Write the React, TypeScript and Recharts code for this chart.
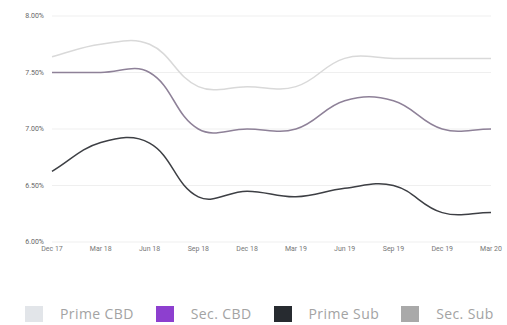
import { LineChart, Line, XAxis, YAxis, CartesianGrid, Legend } from 'recharts';

const quarters = ['Dec 17', 'Mar 18', 'Jun 18', 'Sep 18', 'Dec 18', 'Mar 19', 'Jun 19', 'Sep 19', 'Dec 19', 'Mar 20'];
const primeCbd = [7.64, 7.75, 7.75, 7.375, 7.375, 7.375, 7.625, 7.625, 7.625, 7.625];
const secCbd = [7.5, 7.5, 7.5, 7.0, 7.0, 7.0, 7.25, 7.25, 7.0, 7.0];
const primeSub = [6.625, 6.88, 6.875, 6.4, 6.45, 6.4, 6.475, 6.5, 6.26, 6.26];
const yTicks = [6.0, 6.5, 7.0, 7.5, 8.0];

const series = [
  { key: 'primeCbd', name: 'Prime CBD', color: '#e2e5e9', line: '#d9d9d9' },
  { key: 'secCbd', name: 'Sec. CBD', color: '#8d3fcf', line: '#8e8198' },
  { key: 'primeSub', name: 'Prime Sub', color: '#272b30', line: '#3d3f44' },
  { key: 'secSub', name: 'Sec. Sub', color: '#a9a9a9', line: '#a9a9a9' },
];

const data = quarters.map((q, i) => ({
  quarter: q,
  primeCbd: primeCbd[i],
  secCbd: secCbd[i],
  primeSub: primeSub[i],
}));

// tension spline: control points follow the neighbour chord, so corners overshoot a little
const TENSION = 0.4;
const splineCurve = (ctx: any) => {
  let pts: [number, number][] = [];
  return {
    areaStart() {},
    areaEnd() {},
    lineStart() {
      pts = [];
    },
    point(x: number, y: number) {
      pts.push([+x, +y]);
    },
    lineEnd() {
      if (!pts.length) return;
      const cps = pts.map((p, i) => {
        const p0 = pts[Math.max(i - 1, 0)];
        const p2 = pts[Math.min(i + 1, pts.length - 1)];
        const d01 = Math.hypot(p[0] - p0[0], p[1] - p0[1]);
        const d12 = Math.hypot(p2[0] - p[0], p2[1] - p[1]);
        const sum = d01 + d12 || 1;
        const fa = (TENSION * d01) / sum;
        const fb = (TENSION * d12) / sum;
        const dx = p2[0] - p0[0];
        const dy = p2[1] - p0[1];
        return {
          prev: [p[0] - fa * dx, p[1] - fa * dy],
          next: [p[0] + fb * dx, p[1] + fb * dy],
        };
      });
      ctx.moveTo(pts[0][0], pts[0][1]);
      for (let i = 1; i < pts.length; i++) {
        const a = cps[i - 1].next;
        const b = cps[i].prev;
        ctx.bezierCurveTo(a[0], a[1], b[0], b[1], pts[i][0], pts[i][1]);
      }
    },
  };
};

function LegendRow() {
  return (
    <div style={{ height: 63, paddingTop: 40, paddingLeft: 25, boxSizing: 'border-box', display: 'flex', gap: 22 }}>
      {series.map((s) => (
        <div key={s.key} style={{ display: 'flex', alignItems: 'center', gap: 17, whiteSpace: 'nowrap' }}>
          <span style={{ width: 18, height: 16, background: s.color, display: 'inline-block' }} />
          <span style={{ fontFamily: '"Open Sans", sans-serif', fontSize: 14, letterSpacing: 0.4, color: '#a3a3a3' }}>
            {s.name}
          </span>
        </div>
      ))}
    </div>
  );
}

export default function App() {
  return (
    <div style={{ position: 'absolute', left: 0, top: 0, width: 507, height: 325, background: '#fff', overflow: 'hidden' }}>
      <LineChart width={507} height={325} data={data} margin={{ top: 16, right: 16, left: 0, bottom: 0 }}>
        <CartesianGrid vertical={false} stroke="#efefef" />
        <XAxis
          dataKey="quarter"
          axisLine={false}
          tickLine={false}
          tickSize={0}
          tickMargin={4}
          height={20}
          interval={0}
          tick={{ fontSize: 7, fill: '#777', fontFamily: 'Roboto, sans-serif' }}
        />
        <YAxis
          domain={[6, 8]}
          ticks={yTicks}
          width={52}
          axisLine={false}
          tickLine={false}
          tickFormatter={(v: number) => `${v.toFixed(2)}%`}
          tick={{ fontSize: 7, fill: '#666', fontFamily: 'Roboto, sans-serif' }}
        />
        <Legend verticalAlign="bottom" content={() => <LegendRow />} />
        {series.slice(0, 3).map((s) => (
          <Line
            key={s.key}
            type={splineCurve as any}
            dataKey={s.key}
            name={s.name}
            stroke={s.line}
            strokeWidth={1.5}
            dot={false}
            isAnimationActive={false}
          />
        ))}
      </LineChart>
    </div>
  );
}
